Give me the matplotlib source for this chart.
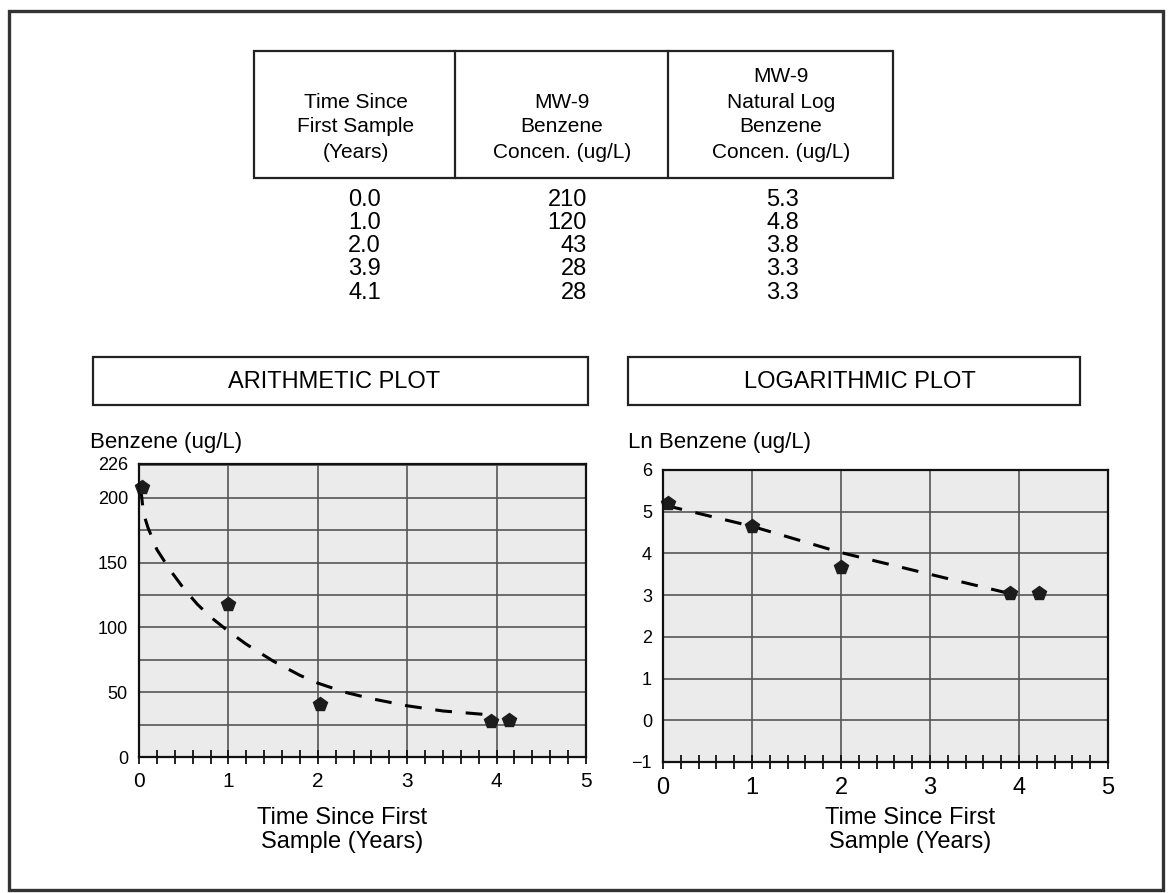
import matplotlib
matplotlib.use("Agg")
import matplotlib.pyplot as plt
from matplotlib.patches import Rectangle
from matplotlib.ticker import MultipleLocator

plt.rcParams['font.family'] = ['Liberation Sans', 'DejaVu Sans']

# table values
years = [0.0, 1.0, 2.0, 3.9, 4.1]
benzene = [210, 120, 43, 28, 28]
ln_benzene = [5.3, 4.8, 3.8, 3.3, 3.3]

col_heads = [
    ["Time Since", "First Sample", "(Years)"],
    ["MW-9", "Benzene", "Concen. (ug/L)"],
    ["MW-9", "Natural Log", "Benzene", "Concen. (ug/L)"],
]

# points as plotted in the two charts
arith_t = [0.03, 0.99, 2.02, 3.94, 4.14]
arith_c = [208, 118, 41, 28, 28.5]
log_t = [0.06, 1.0, 2.0, 3.9, 4.22]
log_c = [5.22, 4.66, 3.67, 3.04, 3.04]

# dashed trend lines
arith_fit_t = [0.02, 0.05, 0.1, 0.2, 0.35, 0.5, 0.65, 0.8, 1.0, 1.2, 1.5,
               1.8, 2.0, 2.3, 2.6, 3.0, 3.4, 3.94]
arith_fit_c = [207, 188, 177, 160, 144, 130, 118, 108, 97, 87, 74,
               63, 57, 50, 45, 39.5, 35.5, 32.4]
log_fit_t = [0.03, 1.0, 2.0, 3.0, 3.97]
log_fit_c = [5.15, 4.65, 4.02, 3.5, 3.0]

W, H = 1168, 893
fig = plt.figure(figsize=(W / 100, H / 100), dpi=100)


def fx(px):
    return px / W


def fy(py):
    return 1 - py / H


def box(x0, y0, x1, y1, lw=1.6, color='#222222'):
    fig.add_artist(Rectangle((fx(x0), fy(y1)), fx(x1) - fx(x0), fy(y0) - fy(y1),
                             transform=fig.transFigure, fill=False,
                             lw=lw, edgecolor=color))


def line(x0, y0, x1, y1, lw=1.6):
    fig.add_artist(plt.Line2D([fx(x0), fx(x1)], [fy(y0), fy(y1)],
                              transform=fig.transFigure, lw=lw, color='#222222'))


# outer frame
box(9, 11, 1163, 890, lw=2.4, color='#333333')

# table
box(254, 51, 893, 178)
line(455, 51, 455, 178)
line(668, 51, 668, 178)
head_x = [356, 562, 781]
for cx, lines in zip(head_x, col_heads):
    for k, txt in enumerate(reversed(lines)):
        fig.text(fx(cx), fy(152 - 25 * k), txt, ha='center', va='center',
                 fontsize=15)

row_y = [200, 223, 246, 269, 293]
for i in range(len(years)):
    fig.text(fx(381), fy(row_y[i]), f"{years[i]:.1f}", ha='right', va='center', fontsize=17)
    fig.text(fx(587), fy(row_y[i]), f"{benzene[i]}", ha='right', va='center', fontsize=17)
    fig.text(fx(799), fy(row_y[i]), f"{ln_benzene[i]:.1f}", ha='right', va='center', fontsize=17)

# plot title boxes
box(93, 357, 588, 405)
fig.text(fx(334), fy(382), "ARITHMETIC PLOT", ha='center', va='center', fontsize=17)
box(628, 357, 1080, 405)
fig.text(fx(860), fy(382), "LOGARITHMIC PLOT", ha='center', va='center', fontsize=17)


def style_axes(ax):
    ax.set_facecolor('#ebebeb')
    for s in ax.spines.values():
        s.set_linewidth(1.6)
        s.set_color('#111111')
    ax.set_xlim(0, 5)
    ax.xaxis.set_major_locator(MultipleLocator(1))
    ax.xaxis.set_minor_locator(MultipleLocator(0.2))
    ax.tick_params(axis='x', which='both', direction='inout', length=10,
                   width=1.3, color='#111111', pad=6)
    ax.tick_params(axis='y', which='both', length=0, pad=8, labelsize=13)
    ax.grid(True, which='major', color='#555555', lw=1.2)
    ax.set_axisbelow(True)


# arithmetic plot
ax1 = fig.add_axes([fx(139), fy(757), fx(586) - fx(139), fy(464) - fy(757)])
style_axes(ax1)
ax1.set_ylim(0, 226)
ax1.yaxis.set_minor_locator(MultipleLocator(25))
ax1.set_yticks([0, 50, 100, 150, 200, 226])
ax1.grid(True, which='minor', axis='y', color='#555555', lw=1.2)
ax1.tick_params(axis='x', labelsize=15)
ax1.plot(arith_fit_t, arith_fit_c, color='black', lw=2.2, dashes=(5.5, 4.5))
ax1.plot(arith_t, arith_c, 'p', color='#1c1c1c', ms=10, clip_on=False)
fig.text(fx(90), fy(442), "Benzene (ug/L)", ha='left', va='center', fontsize=16)
fig.text(fx(342), fy(818), "Time Since First", ha='center', va='center', fontsize=17)
fig.text(fx(342), fy(842), "Sample (Years)", ha='center', va='center', fontsize=17)

# logarithmic plot
ax2 = fig.add_axes([fx(663), fy(762), fx(1108) - fx(663), fy(470) - fy(762)])
style_axes(ax2)
ax2.set_ylim(-1, 6)
ax2.yaxis.set_major_locator(MultipleLocator(1))
ax2.tick_params(axis='x', labelsize=17)
ax2.plot(log_fit_t, log_fit_c, color='black', lw=2.2, dashes=(5.5, 4.5))
ax2.plot(log_t, log_c, 'p', color='#1c1c1c', ms=10, clip_on=False)
fig.text(fx(628), fy(442), "Ln Benzene (ug/L)", ha='left', va='center', fontsize=16)
fig.text(fx(910), fy(818), "Time Since First", ha='center', va='center', fontsize=17)
fig.text(fx(910), fy(842), "Sample (Years)", ha='center', va='center', fontsize=17)

fig.savefig("out.png", dpi=100, facecolor='white')
